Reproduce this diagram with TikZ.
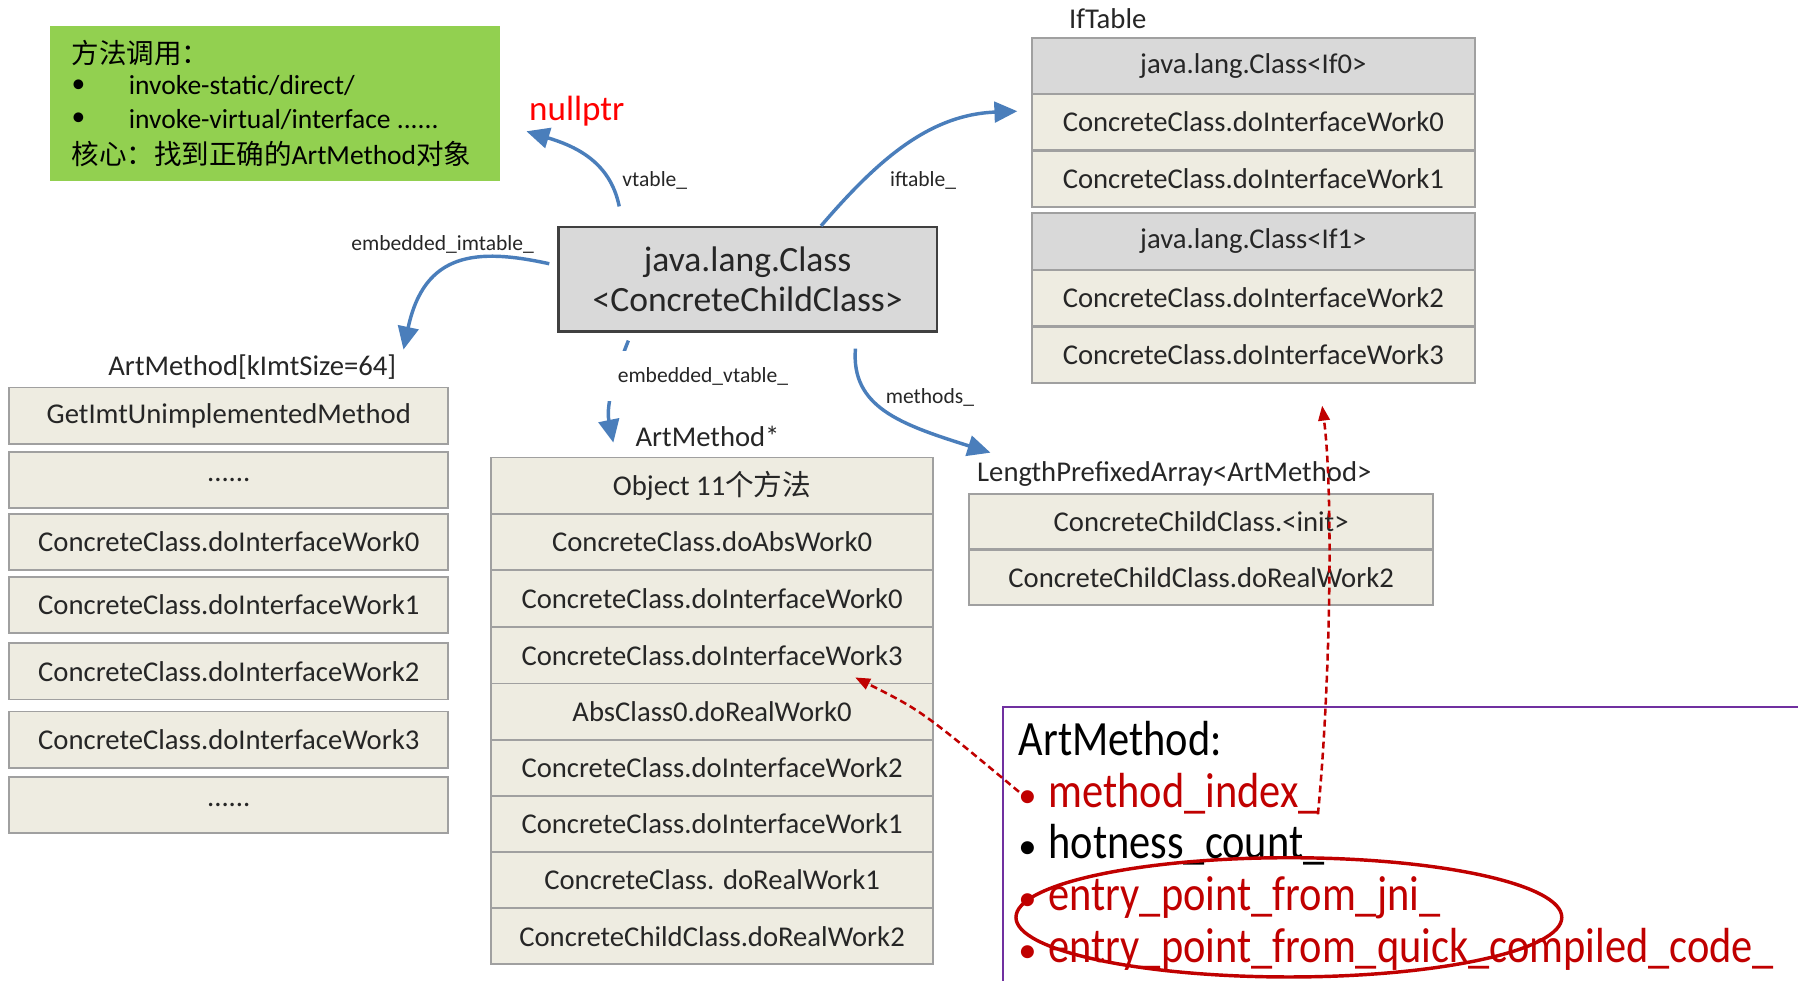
\documentclass[tikz,border=0pt]{standalone}
\usepackage{fontspec}
\setmainfont{Carlito}
\newfontfamily\cjk{Noto Sans CJK SC}
\newfontfamily\narrowfont{Carlito}[FakeStretch=0.86]
\usetikzlibrary{arrows.meta,calc}

\definecolor{artblue}{HTML}{4A7EBB}
\definecolor{artred}{HTML}{C00000}
\definecolor{hdrgray}{HTML}{D9D9D9}
\definecolor{cellbg}{HTML}{EEECE1}
\definecolor{cellline}{HTML}{A0A0A0}
\definecolor{notegreen}{HTML}{92D050}
\definecolor{boxpurple}{HTML}{7030A0}
\definecolor{ink}{HTML}{262626}
\definecolor{clsline}{HTML}{404040}

\newcommand{\sixdots}{......}

\tikzset{
  cell/.style={draw=cellline, line width=0.8pt, fill=cellbg, minimum height=24.5pt,
    inner sep=0pt, font=\fontsize{12.5}{14}\selectfont, text=ink},
  hdrcell/.style={cell, fill=hdrgray},
  tlabel/.style={font=\fontsize{12.5}{14}\selectfont, text=ink, inner sep=0pt},
  elabel/.style={font=\fontsize{9.4}{11}\selectfont, text=ink, inner sep=1pt},
  notetext/.style={anchor=west, inner sep=0pt, font=\fontsize{12}{14}\selectfont, text=black},
  ptr/.style={draw=artblue, line width=1.5pt, -{Triangle[length=10pt,width=9pt]}},
  redptr/.style={draw=artred, line width=1.1pt, dash pattern=on 3pt off 1.8pt,
    -{Triangle[length=6.5pt,width=5pt]}},
  infotext/.style={anchor=base west, inner sep=0pt, font=\narrowfont\fontsize{21.5}{24}\selectfont},
  infobullet/.style={anchor=base, inner sep=0pt, font=\fontsize{16}{18}\selectfont},
}

\begin{document}
\begin{tikzpicture}[x=0.5pt,y=-0.5pt]
\useasboundingbox (0,0) rectangle (1568,855);

% summary note
\node[fill=notegreen, minimum width=196pt, minimum height=67.5pt, inner sep=0pt] (note) at (240,90.5) {};
\node[notetext] (n1) at (62,46) {\cjk 方法调用：};
\node[notetext] (n2b) at (62,75) {•};
\node[notetext] (n2) at (112,75) {invoke-static/direct/};
\node[notetext] (n3b) at (62,104) {•};
\node[notetext] (n3) at (112,104) {invoke-virtual/interface \sixdots};
\node[notetext] (n4) at (62,134) {{\cjk 核心：找到正确的}ArtMethod{\cjk 对象}};

% the class object
\node[draw=clsline, line width=1pt, fill=hdrgray, minimum width=165pt, minimum height=45.5pt,
  inner sep=0pt, align=center, text=ink, font=\fontsize{15.5}{17.5}\selectfont] (cls) at (652,243.5)
  {java.lang.Class\\<ConcreteChildClass>};

\node[text=red, inner sep=0pt, font=\fontsize{15.3}{17}\selectfont] (nullptr) at (503,97) {nullptr};

% IfTable
\node[tlabel] (iftl) at (966,16) {IfTable};
\node[hdrcell, minimum width=193pt] (i1) at (1093,57.5) {java.lang.Class<If0>};
\node[cell, minimum width=193pt] (i2) at (1093,106.5) {ConcreteClass.doInterfaceWork0};
\node[cell, minimum width=193pt] (i3) at (1093,156) {ConcreteClass.doInterfaceWork1};
\node[hdrcell, minimum width=193pt] (i4) at (1093,210.5) {java.lang.Class<If1>};
\node[cell, minimum width=193pt] (i5) at (1093,260) {ConcreteClass.doInterfaceWork2};
\node[cell, minimum width=193pt] (i6) at (1093,309.5) {ConcreteClass.doInterfaceWork3};

% embedded IMT
\node[tlabel] (imtl) at (220,320) {ArtMethod[kImtSize=64]};
\node[cell, minimum width=191.5pt] (l1) at (199.5,362.5) {GetImtUnimplementedMethod};
\node[cell, minimum width=191.5pt] (l2) at (199.5,418.5) {\sixdots};
\node[cell, minimum width=191.5pt] (l3) at (199.5,472.5) {ConcreteClass.doInterfaceWork0};
\node[cell, minimum width=191.5pt] (l4) at (199.5,527.5) {ConcreteClass.doInterfaceWork1};
\node[cell, minimum width=191.5pt] (l5) at (199.5,585.5) {ConcreteClass.doInterfaceWork2};
\node[cell, minimum width=191.5pt] (l6) at (199.5,645) {ConcreteClass.doInterfaceWork3};
\node[cell, minimum width=191.5pt] (l7) at (199.5,702) {\sixdots};

% embedded vtable
\node[tlabel] (vtl) at (617,381) {ArtMethod*};
\node[cell, minimum width=193pt] (m1) at (621,423.5) {Object 11{\cjk 个方法}};
\node[cell, minimum width=193pt] (m2) at (621,472.5) {ConcreteClass.doAbsWork0};
\node[cell, minimum width=193pt] (m3) at (621,522) {ConcreteClass.doInterfaceWork0};
\node[cell, minimum width=193pt] (m4) at (621,571.5) {ConcreteClass.doInterfaceWork3};
\node[cell, minimum width=193pt] (m5) at (621,620.5) {AbsClass0.doRealWork0};
\node[cell, minimum width=193pt] (m6) at (621,669.5) {ConcreteClass.doInterfaceWork2};
\node[cell, minimum width=193pt] (m7) at (621,718.5) {ConcreteClass.doInterfaceWork1};
\node[cell, minimum width=193pt] (m8) at (621,767.5) {ConcreteClass. doRealWork1};
\node[cell, minimum width=193pt] (m9) at (621,816.5) {ConcreteChildClass.doRealWork2};

% methods_ array
\node[tlabel] (lpal) at (1024,413) {LengthPrefixedArray<ArtMethod>};
\node[cell, minimum width=202.5pt, minimum height=24pt] (p1) at (1047.5,455) {ConcreteChildClass.<init>};
\node[cell, minimum width=202.5pt, minimum height=24pt] (p2) at (1047.5,503.5) {ConcreteChildClass.doRealWork2};

% pointers out of the class object
\draw[ptr] ([xshift=27pt,yshift=8.5pt]cls.north west) .. controls (532,140) and (500,127) .. ([xshift=-1pt,yshift=-2pt]nullptr.south west);
\draw[ptr] ([xshift=115pt]cls.north west) .. controls (765,140) and (810,100) .. ([xshift=-6pt,yshift=4.75pt]i2.west);
\draw[ptr] ([xshift=-3.5pt,yshift=6.75pt]cls.west) .. controls (415,216) and (370,220) .. ([xshift=3pt,yshift=2pt]imtl.north east);
\draw[ptr] ([xshift=31pt,yshift=-3.5pt]cls.south west) .. controls (538,322) and (528,352) .. ([xshift=-9.5pt,yshift=-2.5pt]vtl.west);
\draw[ptr] ([xshift=-36pt,yshift=-7pt]cls.south east) .. controls (742,355) and (785,370) .. ([xshift=6pt,yshift=3.5pt]lpal.north west);

\node[elabel] (lvt) at (571,157) {vtable\_};
\node[elabel] (lif) at (805,157) {iftable\_};
\node[elabel] (limt) at (386,213) {embedded\_imtable\_};
\node[elabel, fill=white, inner xsep=7pt, inner ysep=7pt] (lev) at (613,328) {embedded\_vtable\_};
\node[elabel] (lme) at (811,347) {methods\_};

% ArtMethod fields
\begin{scope}
\clip (0,0) rectangle (1568,855);
\node[draw=boxpurple, line width=0.8pt, minimum width=363pt, minimum height=142pt,
  inner sep=0pt, anchor=north west] (info) at (874,616) {};
\end{scope}
\node[infotext, text=black] (ih) at (888,659) {ArtMethod:};
\node[infobullet, text=artred] (b1) at (896,704) {•};
\node[infotext, text=artred] (t1) at (914,704) {method\_index\_};
\node[infobullet, text=black] (b2) at (896,749) {•};
\node[infotext, text=black] (t2) at (914,749) {hotness\_count\_};
\node[infobullet, text=artred] (b3) at (896,794) {•};
\node[infotext, text=artred] (t3) at (914,794) {entry\_point\_from\_jni\_};
\node[infobullet, text=artred] (b4) at (896,839) {•};
\node[infotext, text=artred] (t4) at (914,839) {entry\_point\_from\_quick\_compiled\_code\_};

\draw[artred, line width=1.5pt] (1124,800) ellipse [x radius=119pt, y radius=26pt];

% where method_index_ points
\draw[redptr] (b1.center) .. controls (804,620) .. ([xshift=-34.5pt,yshift=3pt]m4.south east);
\draw[redptr] ([xshift=-1pt]t1.south east) .. controls (1160,600) and (1163,430) .. ([xshift=30pt,yshift=-9.5pt]i6.south);
\end{tikzpicture}
\end{document}
